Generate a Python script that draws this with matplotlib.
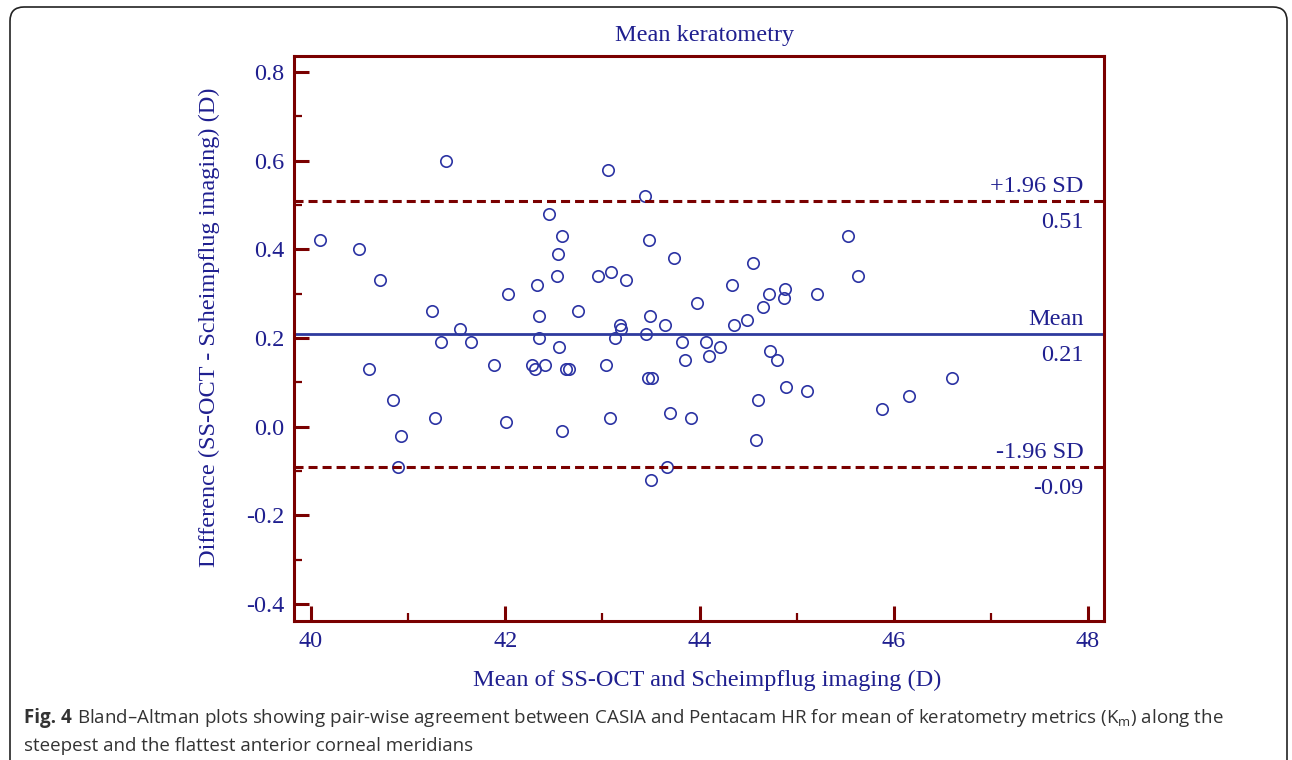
import matplotlib
matplotlib.use("Agg")
import matplotlib.pyplot as plt
from matplotlib.patches import FancyBboxPatch
from matplotlib.transforms import IdentityTransform

# mean of the two methods (D) and their difference (D)
mean_k = [40.09, 40.49, 40.71, 40.60, 40.84, 40.93, 40.90, 41.25, 41.28, 41.34,
          41.39, 41.53, 41.65, 41.88, 42.01, 42.03, 42.28, 42.31, 42.33, 42.35,
          42.35, 42.41, 42.45, 42.53, 42.54, 42.55, 42.58, 42.58, 42.63, 42.66,
          42.75, 42.95, 43.04, 43.06, 43.08, 43.09, 43.13, 43.18, 43.19, 43.24,
          43.44, 43.45, 43.47, 43.48, 43.49, 43.51, 43.50, 43.64, 43.67, 43.70,
          43.74, 43.82, 43.85, 43.91, 43.97, 44.07, 44.10, 44.21, 44.33, 44.35,
          44.49, 44.55, 44.58, 44.60, 44.65, 44.72, 44.73, 44.80, 44.87, 44.88,
          44.89, 45.11, 45.21, 45.53, 45.63, 45.88, 46.16, 46.60]
diff_k = [0.42, 0.40, 0.33, 0.13, 0.06, -0.02, -0.09, 0.26, 0.02, 0.19,
          0.60, 0.22, 0.19, 0.14, 0.01, 0.30, 0.14, 0.13, 0.32, 0.25,
          0.20, 0.14, 0.48, 0.34, 0.39, 0.18, -0.01, 0.43, 0.13, 0.13,
          0.26, 0.34, 0.14, 0.58, 0.02, 0.35, 0.20, 0.23, 0.22, 0.33,
          0.52, 0.21, 0.11, 0.42, 0.25, 0.11, -0.12, 0.23, -0.09, 0.03,
          0.38, 0.19, 0.15, 0.02, 0.28, 0.19, 0.16, 0.18, 0.32, 0.23,
          0.24, 0.37, -0.03, 0.06, 0.27, 0.30, 0.17, 0.15, 0.29, 0.31,
          0.09, 0.08, 0.30, 0.43, 0.34, 0.04, 0.07, 0.11]

mean_diff = 0.21
upper_loa = 0.51
lower_loa = -0.09
xticks = [40, 42, 44, 46, 48]
yticks = [-0.4, -0.2, 0.0, 0.2, 0.4, 0.6, 0.8]

navy = "#1f1f8f"
pt_col = "#2b33a3"
dred = "#7a0000"
serif = "Liberation Serif"
fs = 17.5

plt.rcParams["lines.scale_dashes"] = False

fig = plt.figure(figsize=(12.92, 7.6), dpi=100)
ax = fig.add_axes([0.2276, 0.1829, 0.6269, 0.7434])

ax.plot(mean_k, diff_k, "o", ms=8.2, mfc="none", mec=pt_col, mew=1.2)

ax.axhline(mean_diff, color="#2e3a9e", lw=2.0)
ax.axhline(upper_loa, color=dred, lw=2.2, ls=(0, (6.5, 3.6)))
ax.axhline(lower_loa, color=dred, lw=2.2, ls=(0, (6.5, 3.6)))

labels = [("+1.96 SD", upper_loa), ("Mean", mean_diff), ("-1.96 SD", lower_loa)]
for txt, val in labels:
    ax.annotate(txt, (48.0, val), xytext=(-3, 6.5), textcoords="offset points",
                ha="right", va="baseline", color=navy, fontsize=fs, family=serif)
    ax.annotate("%.2f" % val, (48.0, val), xytext=(-3, -20), textcoords="offset points",
                ha="right", va="baseline", color=navy, fontsize=fs, family=serif)

ax.set_xlim(39.825, 48.165)
ax.set_ylim(-0.438, 0.836)
ax.set_xticks(xticks)
ax.set_xticks([41, 43, 45, 47], minor=True)
ax.set_yticks(yticks)
ax.set_yticks([-0.3, -0.1, 0.1, 0.3, 0.5, 0.7], minor=True)
ax.set_yticklabels(["%.1f" % v for v in yticks])

for s in ax.spines.values():
    s.set_color(dred)
    s.set_linewidth(2.2)
ax.tick_params(which="major", direction="in", length=11, width=2.2, color=dred,
               labelcolor=navy, labelsize=fs, pad=7)
ax.tick_params(which="minor", direction="in", length=6, width=1.6, color=dred)
for lab in ax.get_xticklabels() + ax.get_yticklabels():
    lab.set_family(serif)

ax.set_xlabel("Mean of SS-OCT and Scheimpflug imaging (D)", fontsize=fs,
              color=navy, family=serif)
ax.xaxis.set_label_coords(0.51, -0.086)
ax.set_ylabel("Difference (SS-OCT - Scheimpflug imaging) (D)", fontsize=fs,
              color=navy, family=serif)
ax.yaxis.set_label_coords(-0.091, 0.52)

fig.text(705 / 1292, 1 - 36 / 760, "Mean keratometry", ha="center", va="center",
         fontsize=fs, color=navy, family=serif)

# outer frame of the figure panel
frame = FancyBboxPatch((10, -60), 1277, 813, boxstyle="round,pad=0,rounding_size=14",
                       transform=IdentityTransform(), fc="none", ec="#222222", lw=1.2)
fig.patches.append(frame)

# caption
cap_font = "Open Sans"
cap_fs = 13.5
fig.canvas.draw()
r = fig.canvas.get_renderer()
t1 = fig.text(24 / 1292, 1 - 718 / 760, "Fig. 4", fontsize=cap_fs, fontweight="bold",
              family=cap_font, color="#333333", va="center")
bb = t1.get_window_extent(renderer=r)
fig.text((bb.x1 + 5) / 1292, 1 - 718 / 760,
         "Bland\u2013Altman plots showing pair-wise agreement between CASIA and Pentacam HR "
         "for mean of keratometry metrics ($\\mathregular{K_m}$) along the",
         fontsize=cap_fs, family=cap_font, color="#333333", va="center")
fig.text(24 / 1292, 1 - 746 / 760, "steepest and the flattest anterior corneal meridians",
         fontsize=cap_fs, family=cap_font, color="#333333", va="center")

fig.savefig("out.png", dpi=100)
